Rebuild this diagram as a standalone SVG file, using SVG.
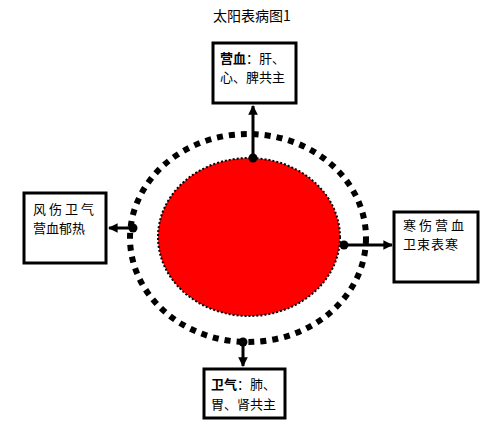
<svg xmlns="http://www.w3.org/2000/svg" width="491" height="425" viewBox="0 0 491 425">
<style>
.t{font-family:"Noto Sans CJK SC","Liberation Sans",sans-serif;font-size:13px;fill:#000}
.b{font-weight:bold}
.box{fill:#fff;stroke:#000;stroke-width:3}
.c{stroke:#000;stroke-width:3;fill:none}
</style>
<defs>
<marker id="ah" viewBox="0 0 10 10" refX="9" refY="5" markerWidth="3.2" markerHeight="3.2" orient="auto" markerUnits="strokeWidth">
<path d="M0,0 L10,5 L0,10 z" fill="#000"/>
</marker>
</defs>
<rect width="491" height="425" fill="#fff"/>
<text x="252" y="21" text-anchor="middle" style="font-family:'Noto Sans CJK SC','Liberation Sans',sans-serif;font-size:14px">太阳表病图1</text>
<g id="outer">
<ellipse cx="248" cy="238" rx="118" ry="104" fill="none" stroke="#000" stroke-width="6" stroke-dasharray="6 6"/>
</g>
<g id="core">
<ellipse cx="249" cy="237" rx="91" ry="79" fill="#ff0000" stroke="#000" stroke-width="2" stroke-dasharray="2 2"/>
</g>
<g id="connectors">
<line class="c" x1="253" y1="158" x2="253" y2="106" marker-end="url(#ah)"/>
<circle cx="253" cy="158" r="4.5" fill="#000"/>
<line class="c" x1="133" y1="228" x2="109" y2="228" marker-end="url(#ah)"/>
<circle cx="133" cy="228" r="4.5" fill="#000"/>
<line class="c" x1="344" y1="245" x2="392" y2="245" marker-end="url(#ah)"/>
<circle cx="344" cy="245" r="4.5" fill="#000"/>
<line class="c" x1="243" y1="342" x2="243" y2="366" marker-end="url(#ah)"/>
<circle cx="243" cy="342" r="4.5" fill="#000"/>
</g>
<g id="top">
<rect class="box" x="213" y="43" width="83" height="60"/>
<text class="t" x="220" y="63"><tspan class="b">营血</tspan>：肝、</text>
<text class="t" x="220" y="82">心、脾共主</text>
</g>
<g id="left">
<rect class="box" x="24" y="193" width="82" height="70"/>
<text class="t" x="33" y="214" letter-spacing="3">风伤卫气</text>
<text class="t" x="33" y="233">营血郁热</text>
</g>
<g id="right">
<rect class="box" x="394" y="212" width="84" height="70"/>
<text class="t" x="403" y="230" letter-spacing="3">寒伤营血</text>
<text class="t" x="403" y="249" letter-spacing="1">卫束表寒</text>
</g>
<g id="bottom">
<rect class="box" x="204" y="369" width="81" height="49"/>
<text class="t" x="211" y="389"><tspan class="b">卫气</tspan>：肺、</text>
<text class="t" x="211" y="409">胃、肾共主</text>
</g>
</svg>
